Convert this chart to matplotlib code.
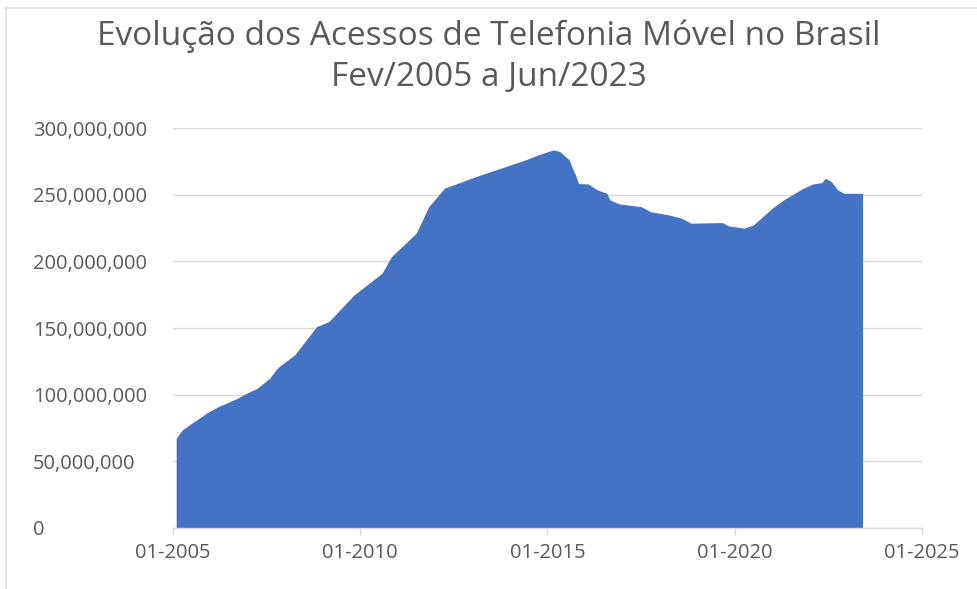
import matplotlib
matplotlib.use("Agg")
import matplotlib.pyplot as plt
import matplotlib.dates as mdates
from matplotlib.lines import Line2D
from matplotlib.ticker import FuncFormatter
import pandas as pd

# Data (values in millions of accesses)
months = ["2005-02", "2005-04", "2005-07", "2005-11", "2005-12", "2006-04", "2006-09",
          "2007-01", "2007-04", "2007-08", "2007-10", "2007-11", "2008-04", "2008-11",
          "2009-03", "2009-11", "2010-08", "2010-11", "2011-07", "2011-11", "2012-04",
          "2013-02", "2014-06", "2014-10", "2015-03", "2015-05", "2015-08", "2015-09",
          "2015-10", "2015-11", "2016-02", "2016-05", "2016-08", "2016-09", "2016-12",
          "2017-07", "2017-10", "2018-04", "2018-08", "2018-11", "2019-09", "2019-11",
          "2020-04", "2020-07", "2021-01", "2021-05", "2021-11", "2022-02", "2022-05",
          "2022-06", "2022-08", "2022-10", "2022-12", "2023-06"]
acessos_mi = [67.2, 73.4, 78.4, 84.7, 86.5, 91.4, 96.5,
              101.4, 104.7, 112.2, 118.5, 121.0, 129.8, 151.0,
              154.8, 174.8, 191.1, 203.6, 221.2, 241.2, 255.0,
              263.7, 276.3, 280.0, 283.8, 282.5, 276.3, 270.0,
              265.0, 258.5, 258.2, 253.7, 251.2, 246.2, 243.2,
              241.2, 237.4, 234.9, 232.5, 228.7, 229.2, 226.7,
              225.0, 227.4, 240.0, 246.7, 255.0, 258.2, 259.2,
              262.5, 260.0, 253.7, 251.2, 251.2]
title_lines = ["Evolução dos Acessos de Telefonia Móvel no Brasil", "Fev/2005 a Jun/2023"]
x_ticks = ["2005-01-01", "2010-01-01", "2015-01-01", "2020-01-01", "2025-01-01"]
y_ticks = [0, 50e6, 100e6, 150e6, 200e6, 250e6, 300e6]

dates = pd.to_datetime(months, format="%Y-%m")
values = [v * 1e6 for v in acessos_mi]

FONT = ["Open Sans", "DejaVu Sans"]
TXT = "#595959"
GRID = "#d9d9d9"

W, H = 977, 589
fig = plt.figure(figsize=(W / 100, H / 100), dpi=100)
fig.patch.set_facecolor("white")

ax = fig.add_axes([173 / W, 1 - 527.7 / H, (922 - 173) / W, (527.7 - 128.3) / H])
ax.fill_between(dates, values, 0, color="#4472C4", linewidth=0, zorder=2)

ax.set_xlim(pd.Timestamp("2005-01-01"), pd.Timestamp("2025-01-01"))
ax.set_ylim(0, 300e6)

ax.set_xticks(pd.to_datetime(x_ticks))
ax.xaxis.set_major_formatter(mdates.DateFormatter("%m-%Y"))
ax.set_yticks(y_ticks)
ax.yaxis.set_major_formatter(FuncFormatter(lambda v, p: f"{int(v):,}"))

for s in ["top", "right", "left"]:
    ax.spines[s].set_visible(False)
ax.spines["bottom"].set_color(GRID)
ax.spines["bottom"].set_linewidth(1)
ax.spines["bottom"].set_zorder(3)

ax.grid(axis="y", color=GRID, linewidth=1, zorder=0)
ax.set_axisbelow(True)

ax.tick_params(axis="x", length=5, width=1, color=GRID, pad=6, labelsize=14.5, labelcolor=TXT)
ax.tick_params(axis="y", length=0, pad=100.8, labelsize=14.5, labelcolor=TXT)
for lab in ax.get_yticklabels():
    lab.set_ha("left")
    lab.set_family(FONT)
for lab in ax.get_xticklabels():
    lab.set_family(FONT)

fig.text(0.5, 1 - 36 / H, title_lines[0], ha="center", va="center", fontsize=24,
         color=TXT, family=FONT)
fig.text(0.5, 1 - 77 / H, title_lines[1], ha="center", va="center", fontsize=24,
         color=TXT, family=FONT)

# light frame lines at top and left (as in the screenshot)
fig.add_artist(Line2D([6 / W, 1], [1 - 8 / H, 1 - 8 / H], color="#e3e3e3", linewidth=1.5,
                      transform=fig.transFigure))
fig.add_artist(Line2D([6 / W, 6 / W], [0, 1 - 8 / H], color="#e3e3e3", linewidth=1.5,
                      transform=fig.transFigure))

fig.savefig("out.png", dpi=100)
